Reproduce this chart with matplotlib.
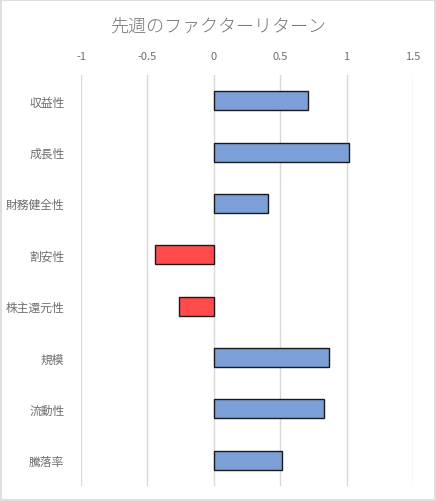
import matplotlib.pyplot as plt
from matplotlib.patches import Rectangle

plt.rcParams['font.family'] = ['Noto Sans CJK JP', 'DejaVu Sans']

factors = ["収益性", "成長性", "財務健全性", "割安性", "株主還元性", "規模", "流動性", "騰落率"]
returns = [0.71, 1.02, 0.41, -0.44, -0.26, 0.87, 0.83, 0.51]
xticks = [-1, -0.5, 0, 0.5, 1, 1.5]
xticklabels = ["-1", "-0.5", "0", "0.5", "1", "1.5"]

blue = "#7b9fd6"
red = "#ff4b4b"
colors = [blue if v >= 0 else red for v in returns]

fig = plt.figure(figsize=(4.36, 5.02), dpi=100)
ax = fig.add_axes([81/436, 1 - 487/502, (413-81)/436, (487-76)/502])

ax.barh(range(len(factors)), returns, height=0.37, color=colors,
        edgecolor="#1a1a1a", linewidth=1.0, zorder=3)

ax.set_xlim(-1, 1.5)
ax.set_ylim(len(factors) - 0.5, -0.5)
ax.set_xticks(xticks)
ax.set_xticklabels(xticklabels)
ax.set_yticks(range(len(factors)))
ax.set_yticklabels(factors)
ax.xaxis.tick_top()
ax.tick_params(axis="x", length=0, pad=10, labelsize=8, labelcolor="#6e6e6e")
ax.tick_params(axis="y", length=0, pad=12, labelsize=8.5, labelcolor="#6e6e6e")
ax.grid(axis="x", color="#d9d9d9", linewidth=1, zorder=0)
for s in ax.spines.values():
    s.set_visible(False)

fig.text(0.5, 1 - 27/502, "先週のファクターリターン", ha="center", va="center",
         fontsize=13, color="#757575", fontweight="light")

fig.patches.append(Rectangle((0.002, 0.002), 0.996, 0.996, transform=fig.transFigure,
                             fill=False, edgecolor="#d9d9d9", linewidth=1.2))

fig.savefig("out.png", dpi=100)
